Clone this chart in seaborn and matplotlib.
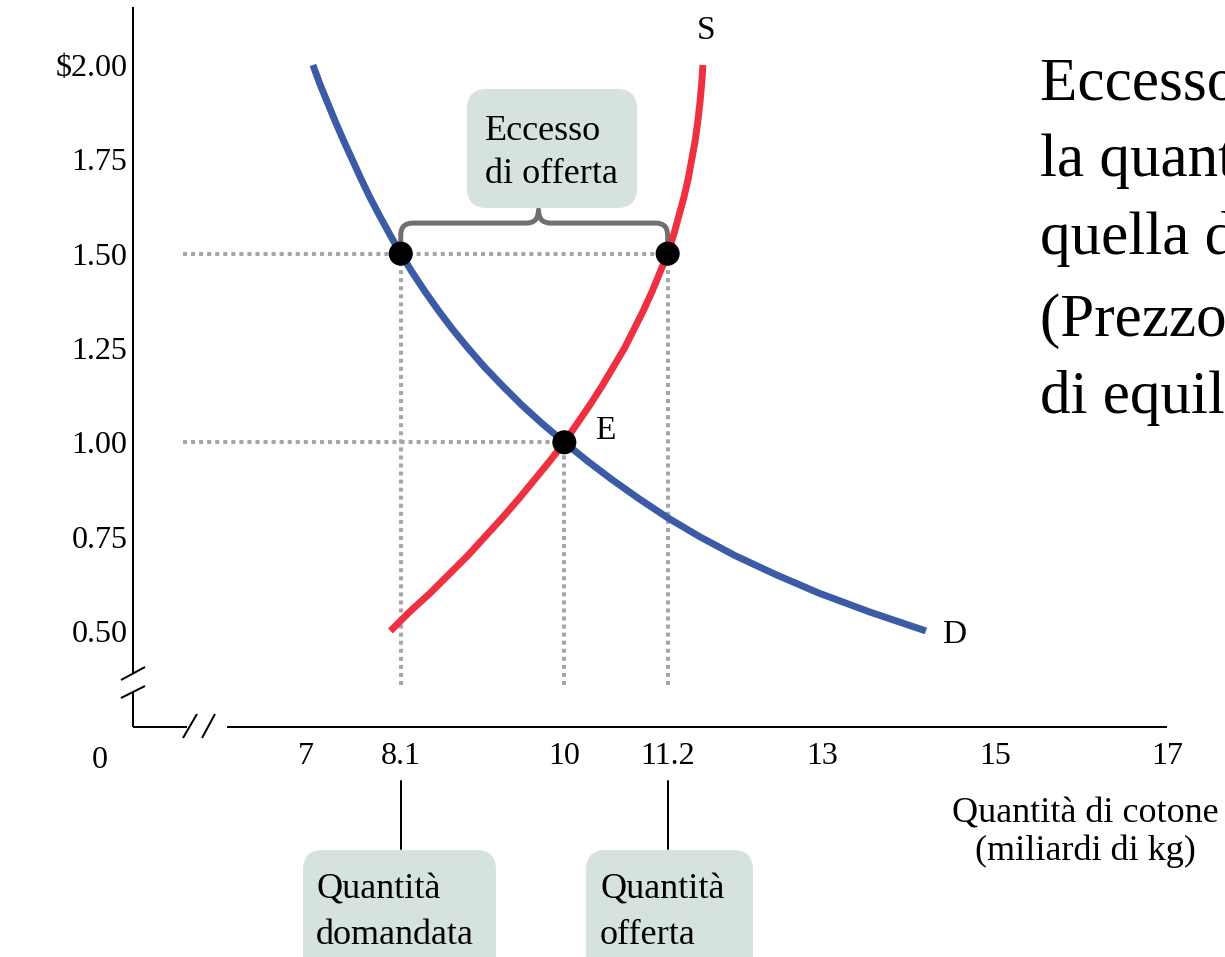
"""Eccesso di offerta - mercato del cotone (domanda e offerta)."""
import matplotlib
import matplotlib.pyplot as plt
import seaborn as sns
from matplotlib.patches import FancyBboxPatch, PathPatch
from matplotlib.path import Path

matplotlib.use("Agg")

# --- data --------------------------------------------------------------------
demand_price = [2.0, 1.95, 1.9, 1.85, 1.8, 1.75, 1.7, 1.65, 1.6, 1.55, 1.5,
                1.45, 1.4, 1.35, 1.3, 1.25, 1.2, 1.15, 1.1, 1.05, 1.0,
                0.95, 0.9, 0.85, 0.8, 0.75, 0.7, 0.65, 0.6, 0.55, 0.5]
demand_qty = [7.08, 7.16, 7.25, 7.34, 7.435, 7.535, 7.635, 7.74, 7.855, 7.975, 8.1,
              8.235, 8.38, 8.535, 8.7, 8.88, 9.07, 9.28, 9.5, 9.74, 10.0,
              10.27, 10.56, 10.87, 11.2, 11.57, 11.98, 12.45, 12.96, 13.55, 14.2]

supply_price = [0.5, 0.55, 0.6, 0.65, 0.7, 0.75, 0.8, 0.85, 0.9, 0.95, 1.0,
                1.05, 1.1, 1.15, 1.2, 1.25, 1.3, 1.35, 1.4, 1.45, 1.5,
                1.55, 1.6, 1.65, 1.7, 1.75, 1.8, 1.85, 1.9, 1.95, 2.0]
supply_qty = [7.98, 8.2, 8.44, 8.66, 8.88, 9.08, 9.28, 9.47, 9.65, 9.83, 10.0,
              10.15, 10.3, 10.44, 10.57, 10.7, 10.81, 10.92, 11.02, 11.11, 11.2,
              11.27, 11.33, 11.39, 11.44, 11.48, 11.52, 11.55, 11.575, 11.595, 11.61]

point_qty = [8.1, 11.2, 10.0]
point_price = [1.5, 1.5, 1.0]

qty_demanded = 8.1
qty_supplied = 11.2
qty_eq = 10.0
price_high = 1.5
price_eq = 1.0

x_ticks = [7, 8.1, 10, 11.2, 13, 15, 17]
x_labels = ["7", "8.1", "10", "11.2", "13", "15", "17"]
y_ticks = [0.5, 0.75, 1.0, 1.25, 1.5, 1.75, 2.0]
y_labels = ["0.50", "0.75", "1.00", "1.25", "1.50", "1.75", r"\$2.00"]

BLUE = "#3b5ba6"
RED = "#ee3040"
GUIDE = "#a6a6a6"
BRACE = "#707070"
BOX = "#d6e2df"

sns.set_theme(style="white")
plt.rcParams["font.family"] = ["Liberation Serif", "DejaVu Serif"]
plt.rcParams["text.color"] = "black"

W, H = 1225, 957
fig = plt.figure(figsize=(W / 100, H / 100), dpi=100)
fig.patch.set_facecolor("white")

# main axes: pixel box 133..1167 x 7..727
ax_l, ax_r, ax_t, ax_b = 133, 1167, 7, 727
ax = fig.add_axes([ax_l / W, 1 - ax_b / H, (ax_r - ax_l) / W, (ax_b - ax_t) / H])
ax.set_facecolor("none")
ax.set_xlim(4.99, 17.0)
ax.set_ylim(0.2454, 2.1537)
for sp in ax.spines.values():
    sp.set_visible(False)

# guide lines
g_left, g_bottom = 5.57, 0.357
dot = dict(color=GUIDE, lw=2.9, linestyle=(0, (1, 1)), dash_capstyle="butt", zorder=1)
ax.plot([g_left, qty_supplied], [price_high, price_high], **dot)
ax.plot([g_left, qty_eq], [price_eq, price_eq], **dot)
ax.plot([qty_demanded, qty_demanded], [g_bottom, price_high], **dot)
ax.plot([qty_eq, qty_eq], [g_bottom, price_eq], **dot)
ax.plot([qty_supplied, qty_supplied], [g_bottom, price_high], **dot)

sns.lineplot(x=supply_qty, y=supply_price, sort=False, estimator=None,
             color=RED, linewidth=5, solid_capstyle="butt",
             solid_joinstyle="round", ax=ax, zorder=3)
sns.lineplot(x=demand_qty, y=demand_price, sort=False, estimator=None,
             color=BLUE, linewidth=5, solid_capstyle="butt",
             solid_joinstyle="round", ax=ax, zorder=3)

# brace over the excess supply
xm = (qty_demanded + qty_supplied) / 2 + 0.05
yh, ytip, rx, ry = 1.581, 1.616, 0.14, 0.032
verts = [(qty_demanded, price_high), (qty_demanded, yh - ry),
         (qty_demanded, yh), (qty_demanded + rx, yh),
         (xm - rx, yh), (xm, yh), (xm, ytip),
         (xm, yh), (xm + rx, yh),
         (qty_supplied - rx, yh), (qty_supplied, yh), (qty_supplied, yh - ry),
         (qty_supplied, price_high)]
codes = [Path.MOVETO, Path.LINETO, Path.CURVE3, Path.CURVE3, Path.LINETO,
         Path.CURVE3, Path.CURVE3, Path.CURVE3, Path.CURVE3, Path.LINETO,
         Path.CURVE3, Path.CURVE3, Path.LINETO]
ax.add_patch(PathPatch(Path(verts, codes), fill=False, edgecolor=BRACE, lw=3.6,
                       capstyle="butt", joinstyle="round", zorder=2))

sns.scatterplot(x=point_qty, y=point_price, color="black", s=300,
                edgecolor="none", ax=ax, zorder=5)

ax.set_xticks(x_ticks)
ax.set_xticklabels(x_labels)
ax.set_yticks(y_ticks)
ax.set_yticklabels(y_labels)
ax.tick_params(axis="x", direction="in", length=20, width=1.44, color="black",
               labelcolor="black", pad=11, labelsize=23)
ax.tick_params(axis="y", direction="in", length=20, width=1.44, color="black",
               labelcolor="black", pad=4, labelsize=23)
ax.set_xlabel("")
ax.set_ylabel("")

# connectors from tick labels down to the boxes
for q in (qty_demanded, qty_supplied):
    ax.plot([q, q], [-0.075, -0.169], color="black", lw=1.44,
            transform=ax.get_xaxis_transform(), clip_on=False)

ax.text(qty_supplied + 0.45, 2.09, "S", fontsize=24, ha="center", va="center")
ax.text(demand_qty[-1] + 0.33, demand_price[-1] - 0.01, "D", fontsize=24,
        ha="center", va="center")
ax.text(qty_eq + 0.47, price_eq + 0.03, "E", fontsize=24, ha="center", va="center")

# overlay in pixel coordinates for axis breaks, boxes and side text
ov = fig.add_axes([0, 0, 1, 1], zorder=5)
ov.set_xlim(0, W)
ov.set_ylim(H, 0)
ov.axis("off")
ov.patch.set_visible(False)

k = dict(color="black", lw=1.44, solid_capstyle="butt")
ov.plot([133, 133], [ax_t, 673], **k)
ov.plot([133, 133], [692, ax_b], **k)
ov.plot([121, 145], [680, 667], **k)
ov.plot([121, 145], [698, 686], **k)
ov.plot([133, 187], [ax_b, ax_b], **k)
ov.plot([227, ax_r], [ax_b, ax_b], **k)
ov.plot([183, 197], [738, 714], **k)
ov.plot([202, 215], [738, 714], **k)

ov.text(100, 760, "0", fontsize=23, ha="center", va="center")

for x0, x1, y0, y1 in [(467, 637, 89, 208), (303, 496, 850, 990), (586, 753, 850, 990)]:
    ov.add_patch(FancyBboxPatch((x0, y0), x1 - x0, y1 - y0,
                                boxstyle="round,pad=0,rounding_size=20",
                                facecolor=BOX, edgecolor="none"))

ov.text(485, 140, "Eccesso", fontsize=26, va="baseline")
ov.text(485, 183, "di offerta", fontsize=26, va="baseline")
ov.text(316, 899, "Quantità", fontsize=26, va="baseline")
ov.text(316, 944, "domandata", fontsize=26, va="baseline")
ov.text(600, 899, "Quantità", fontsize=26, va="baseline")
ov.text(600, 944, "offerta", fontsize=26, va="baseline")

ov.text(1085, 823, "Quantità di cotone", fontsize=26, ha="center", va="baseline")
ov.text(1085, 860, "(miliardi di kg)", fontsize=26, ha="center", va="baseline")

# side note, cut by the right edge as in the slide
side_lines = ["Eccesso di offerta:", "la quantità offerta supera", "quella domandata",
              "(Prezzo superiore a quello", "di equilibrio)"]
for line, base in zip(side_lines, [99, 176, 254, 336, 413]):
    ov.text(1040, base, line, fontsize=44, va="baseline")

fig.savefig("out.png", dpi=100)
plt.close(fig)
